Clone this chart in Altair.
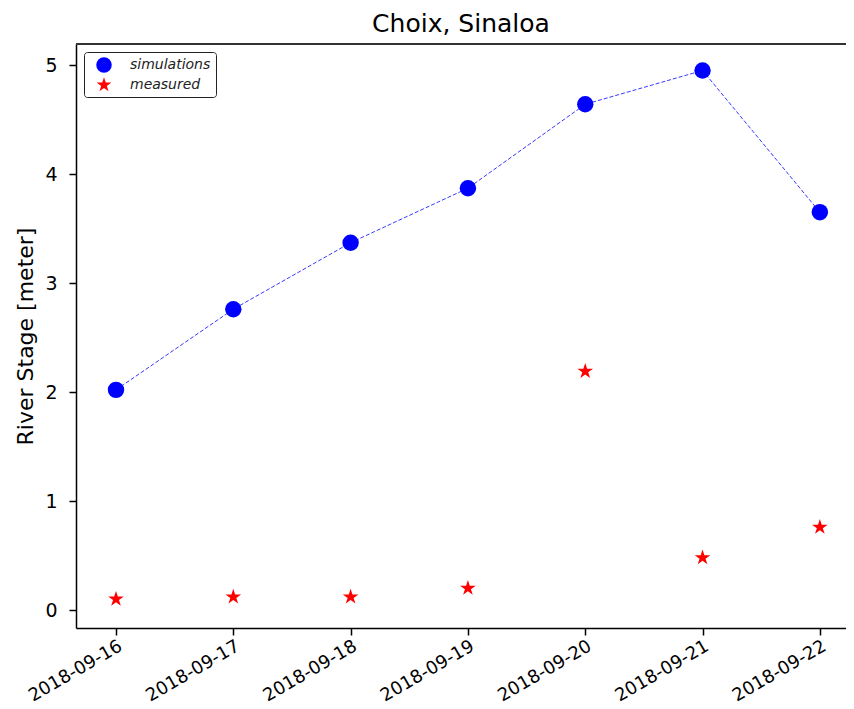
import altair as alt
import pandas as pd

dates = ["2018-09-16", "2018-09-17", "2018-09-18", "2018-09-19",
         "2018-09-20", "2018-09-21", "2018-09-22"]
simulations = [2.02, 2.76, 3.37, 3.87, 4.64, 4.95, 3.65]
measured = [0.10, 0.12, 0.12, 0.20, 2.19, 0.48, 0.76]

series_names = ["simulations", "measured"]

df = pd.DataFrame({
    "date": dates * 2,
    "value": simulations + measured,
    "series": ["simulations"] * len(dates) + ["measured"] * len(dates),
})
df_line = pd.DataFrame({"date": dates, "value": simulations})

W, H = 770, 584
FONT = "DejaVu Sans"
STAR = ("M0,-1L0.2245,-0.309L0.951,-0.309L0.363,0.118L0.588,0.809L0,0.382"
        "L-0.588,0.809L-0.363,0.118L-0.951,-0.309L-0.2245,-0.309Z")

xscale = alt.Scale(
    type="utc",
    domain=[
        alt.DateTime(year=2018, month=9, date=15, hours=15, minutes=49, utc=True),
        alt.DateTime(year=2018, month=9, date=22, hours=5, minutes=21, utc=True),
    ],
)
yscale = alt.Scale(domain=[-0.165, 5.193], nice=False, zero=False)

tick_vals = [alt.DateTime(year=2018, month=9, date=d, utc=True) for d in range(16, 23)]

x_axis = alt.Axis(
    values=tick_vals, format="%Y-%m-%d", labelAngle=-30, labelAlign="right",
    labelBaseline="top", labelFontSize=18, labelPadding=2, tickSize=7,
    tickWidth=1.5, domainWidth=1.5, domainColor="black", tickColor="black",
    labelColor="black", grid=False, title=None, labelFont=FONT,
)
y_axis = alt.Axis(
    values=[0, 1, 2, 3, 4, 5], format="d", labelFontSize=19, labelPadding=12, tickSize=7,
    tickWidth=1.5, domainWidth=1.5, domainColor="black", tickColor="black",
    labelColor="black", grid=False, title="River Stage [meter]",
    titleFontSize=22, titleFontWeight="normal", titleColor="black",
    titleFont=FONT, labelFont=FONT, titleX=-51, titleBaseline="middle",
)

line = alt.Chart(df_line).mark_line(
    color="#2222ff", strokeWidth=1, strokeDash=[4, 2], opacity=0.9
).encode(
    x=alt.X("date:T", scale=xscale, axis=x_axis),
    y=alt.Y("value:Q", scale=yscale, axis=y_axis),
)

points = alt.Chart(df).mark_point(filled=True, opacity=1, size=270).encode(
    x=alt.X("date:T", scale=xscale),
    y=alt.Y("value:Q", scale=yscale),
    color=alt.Color("series:N", scale=alt.Scale(domain=series_names, range=["#0000ff", "#ff0000"]),
                    legend=alt.Legend(title=None)),
    shape=alt.Shape("series:N", scale=alt.Scale(domain=series_names, range=["circle", STAR]),
                    legend=alt.Legend(title=None)),
)

top_border = alt.Chart(df_line).mark_rule(color="#333333", strokeWidth=2).encode(
    y=alt.value(0), x=alt.value(0), x2=alt.value(W)
)

chart = alt.layer(line, points, top_border).properties(
    width=W, height=H,
    title=alt.Title("Choix, Sinaloa", fontSize=25, font=FONT, fontWeight="normal",
                    color="black", anchor="middle", offset=6),
    autosize=alt.AutoSizeParams(type="none"),
    padding={"left": 68, "top": 36, "right": 0, "bottom": 81},
).configure_view(stroke=None).configure_legend(
    orient="top-left", offset=8, padding=5, symbolOffset=7, labelOffset=18,
    rowPadding=4, strokeColor="#222222", cornerRadius=3, fillColor="white",
    labelFontSize=14, labelFontStyle="italic", labelFont=FONT, labelColor="#222222",
    symbolSize=240, symbolStrokeWidth=0,
)

chart.save("out.html", embed_options={"renderer": "svg", "actions": False})
